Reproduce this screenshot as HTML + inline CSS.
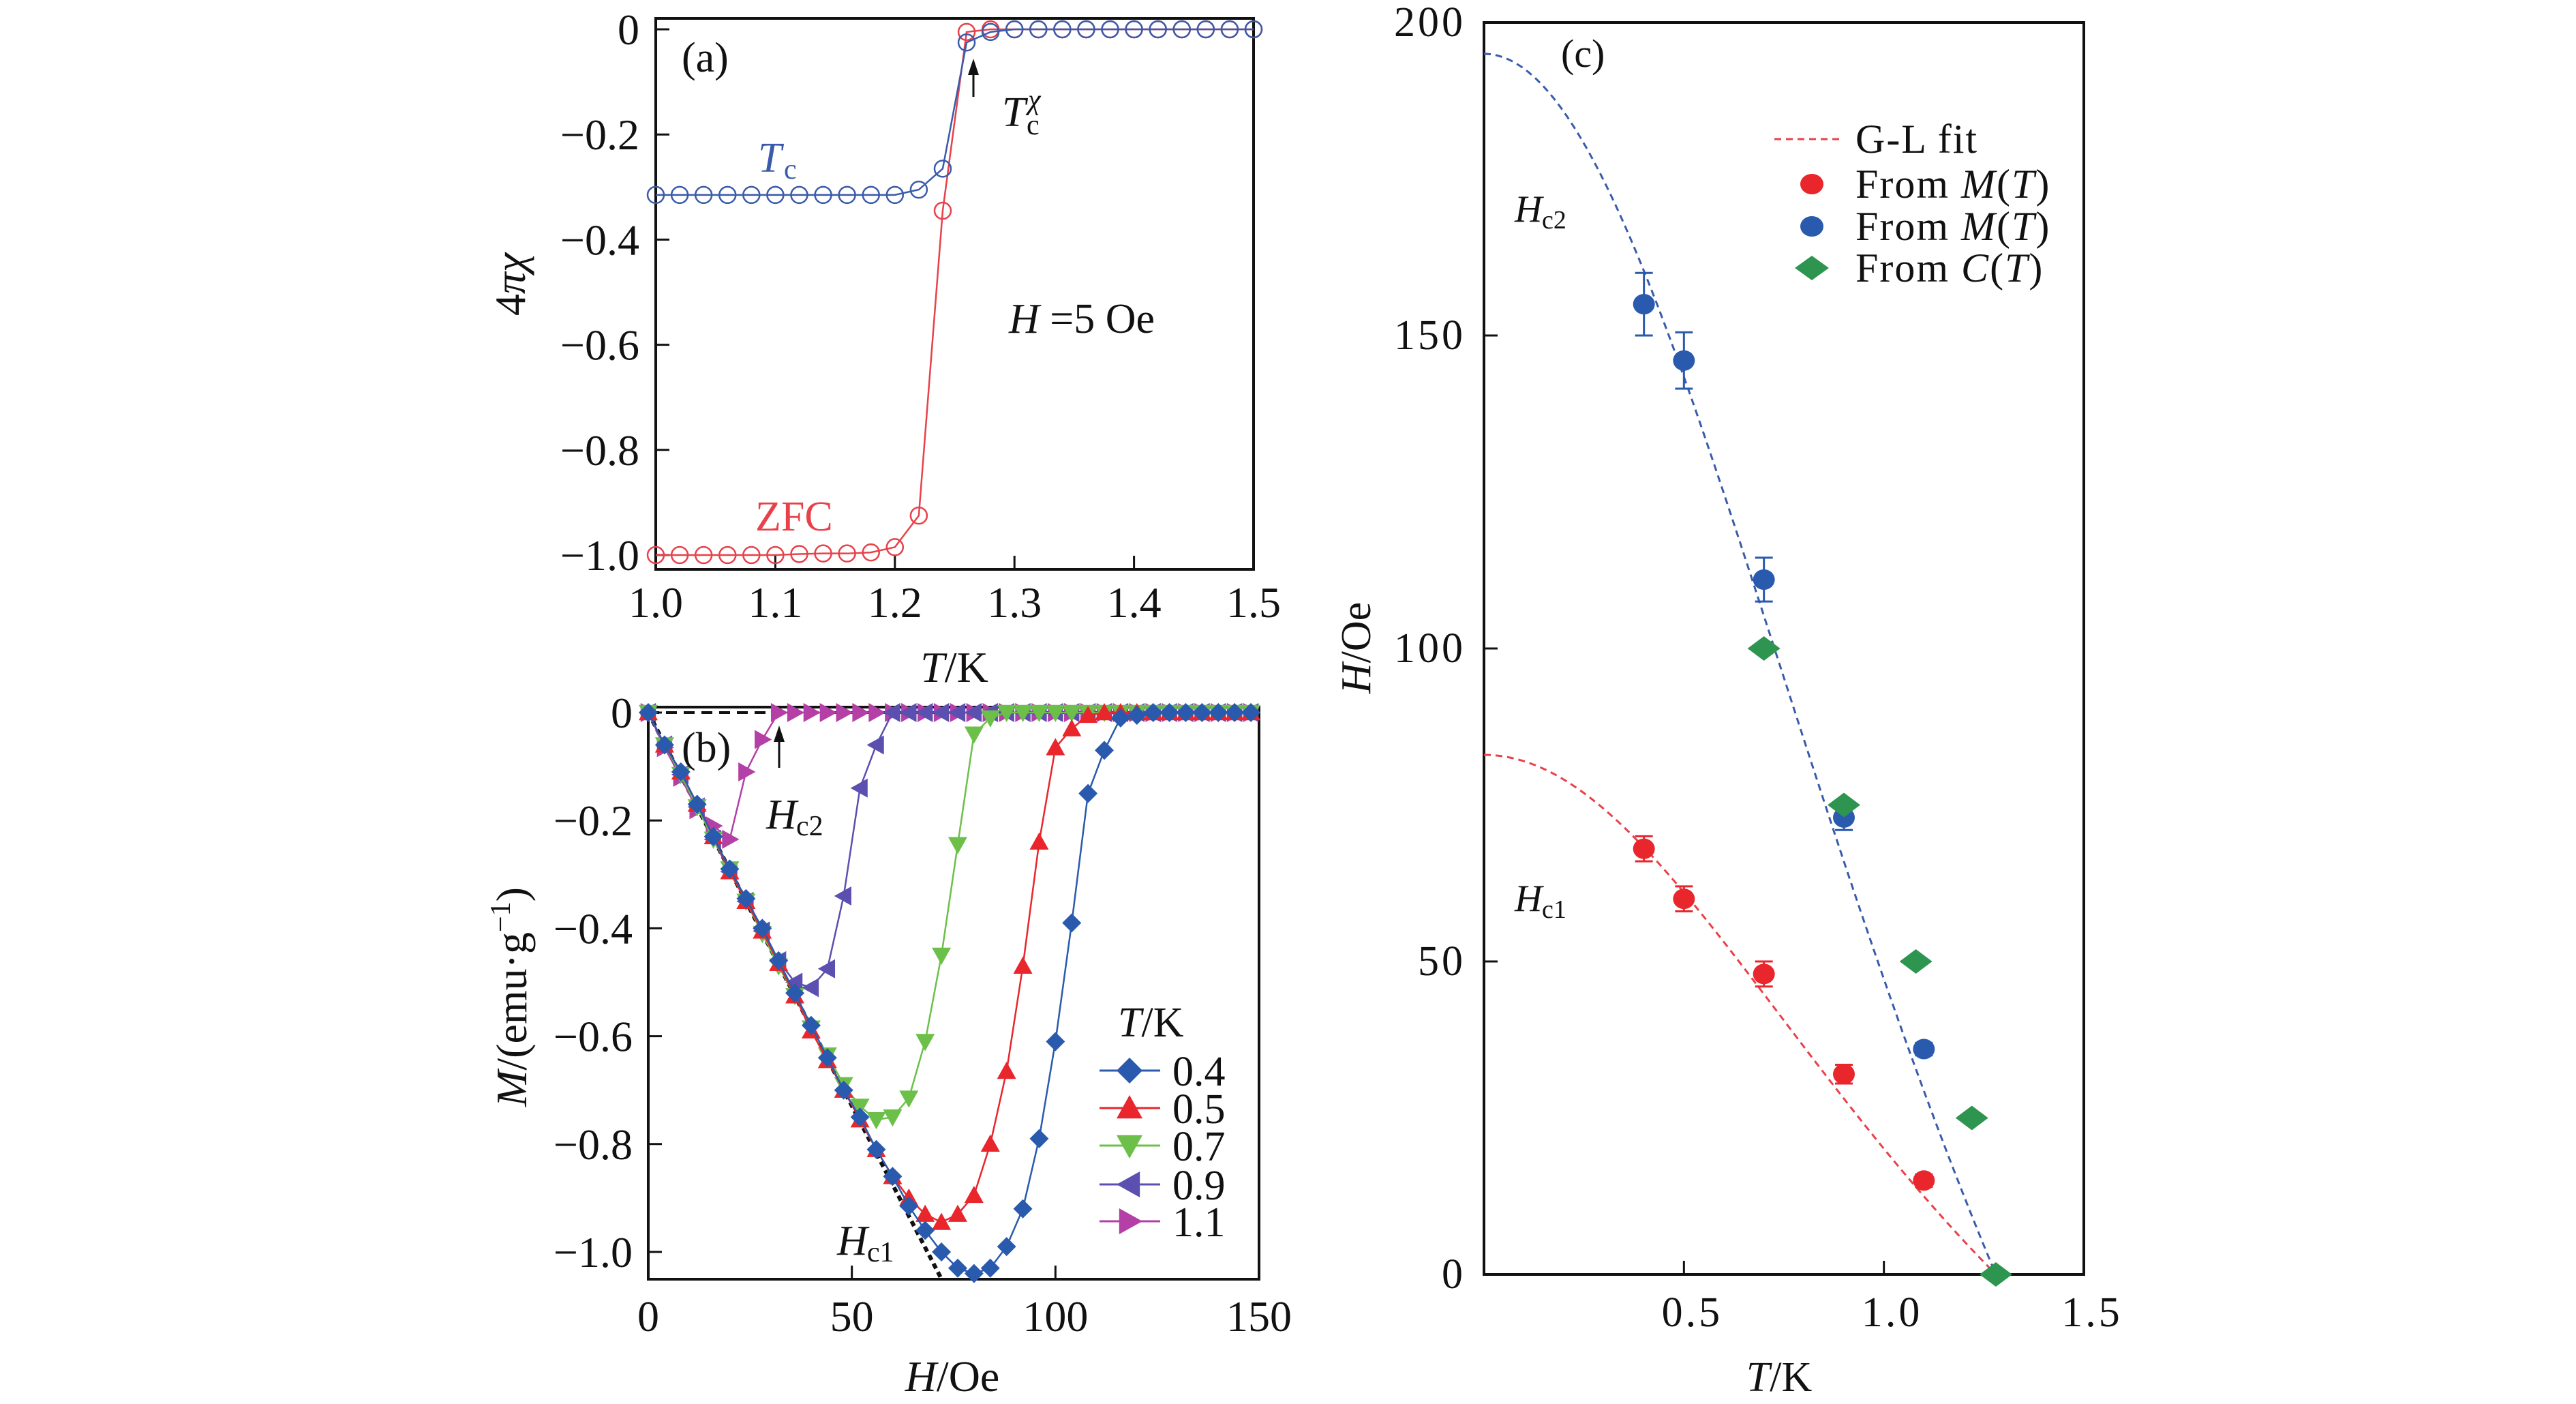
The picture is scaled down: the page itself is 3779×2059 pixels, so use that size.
<!DOCTYPE html>
<html><head><meta charset="utf-8"><style>
html,body{margin:0;padding:0;background:#fff;}
svg{display:block;font-family:"Liberation Serif",serif;}
</style></head><body>
<svg id="fig" width="3779" height="2059" viewBox="0 0 3779 2059" xmlns="http://www.w3.org/2000/svg">
<g id="pa"></g>
<g id="pb"></g>
<g id="pc"></g>
</svg>
<script>
// ---- Panel (a) data ----
const aT = [1.00,1.02,1.04,1.06,1.08,1.10,1.12,1.14,1.16,1.18,1.20,1.22,1.24,1.26,1.28,1.30,1.32,1.34,1.36,1.38,1.40,1.42,1.44,1.46,1.48,1.50];
const aFC = [-0.315,-0.315,-0.315,-0.315,-0.315,-0.315,-0.315,-0.315,-0.315,-0.315,-0.315,-0.305,-0.265,-0.025,-0.005,0,0,0,0,0,0,0,0,0,0,0];
const aZFC = [-1.0,-1.0,-1.0,-1.0,-1.0,-1.0,-0.998,-0.997,-0.997,-0.995,-0.985,-0.925,-0.345,-0.005,0,0,0,0,0,0,0,0,0,0,0,0];
const aXTicks = [1.0,1.1,1.2,1.3,1.4,1.5];
const aXTickLabels = ["1.0","1.1","1.2","1.3","1.4","1.5"];
const aYTicks = [0,-0.2,-0.4,-0.6,-0.8,-1.0];
const aYTickLabels = ["0","\u22120.2","\u22120.4","\u22120.6","\u22120.8","\u22121.0"];
// ---- Panel (b) data ----
const bH = [0,4,8,12,16,20,24,28,32,36,40,44,48,52,56,60,64,68,72,76,80,84,88,92,96,100,104,108,112,116,120,124,128,132,136,140,144,148];
const bM04 = [0,-0.06,-0.11,-0.17,-0.23,-0.29,-0.345,-0.40,-0.46,-0.52,-0.58,-0.64,-0.70,-0.75,-0.81,-0.86,-0.915,-0.96,-1.0,-1.03,-1.04,-1.03,-0.99,-0.92,-0.79,-0.61,-0.39,-0.15,-0.07,-0.01,-0.005,0,0,0,0,0,0,0];
const bM05 = [0,-0.06,-0.11,-0.17,-0.23,-0.295,-0.35,-0.405,-0.465,-0.525,-0.59,-0.645,-0.70,-0.755,-0.81,-0.86,-0.90,-0.93,-0.945,-0.93,-0.895,-0.80,-0.665,-0.47,-0.24,-0.065,-0.03,-0.005,0,0,0,0,0,0,0,0,0,0];
const bM07 = [0,-0.06,-0.115,-0.175,-0.235,-0.29,-0.35,-0.41,-0.47,-0.525,-0.585,-0.635,-0.69,-0.73,-0.755,-0.75,-0.715,-0.61,-0.45,-0.245,-0.04,-0.01,0,0,0,0,0,0,0,0,0,0,0,0,0,0,0,0];
const bM09 = [0,-0.06,-0.115,-0.175,-0.235,-0.295,-0.35,-0.405,-0.46,-0.50,-0.51,-0.475,-0.34,-0.14,-0.06,0,0,0,0,0,0,0,0,0,0,0,0,0,0,0,0,0,0,0,0,0,0,0];
const bM11 = [0,-0.065,-0.12,-0.18,-0.21,-0.235,-0.11,-0.05,0,0,0,0,0,0,0,0,0,0,0,0,0,0,0,0,0,0,0,0,0,0,0,0,0,0,0,0,0,0];
const bXTicks = [0,50,100,150];
const bXTickLabels = ["0","50","100","150"];
const bYTicks = [0,-0.2,-0.4,-0.6,-0.8,-1.0];
const bYTickLabels = ["0","\u22120.2","\u22120.4","\u22120.6","\u22120.8","\u22121.0"];
const bLegendLabels = ["0.4","0.5","0.7","0.9","1.1"];
const bHc1Line = [0,72];
const bHc1Slope = [-1.05/72];
// ---- Panel (c) data ----
const cT = [0.4,0.5,0.7,0.9,1.1];
const cHc2 = [155,146,111,73,36];
const cHc2Err = [5,4.5,3.5,2,1];
const cHc1 = [68,60,48,32,15];
const cHc1Err = [2,2,2,1.5,1];
const cCT = [0.7,0.9,1.08,1.22,1.28];
const cCH = [100,75,50,25,0];
const cFitH0 = [195,83];
const cFitTc = [1.28];
const cXTicks = [0.5,1.0,1.5];
const cXTickLabels = ["0.5","1.0","1.5"];
const cYTicks = [0,50,100,150,200];
const cYTickLabels = ["0","50","100","150","200"];

const NS="http://www.w3.org/2000/svg";
function mk(parent,tag,attrs,text){const e=document.createElementNS(NS,tag);for(const k in attrs)e.setAttribute(k,attrs[k]);if(text!==undefined)e.textContent=text;parent.appendChild(e);return e;}
function lin(d0,d1,r0,r1){return v=>r0+(v-d0)*(r1-r0)/(d1-d0);}

// ===== Panel A =====
(function(){
const g=document.getElementById('pa');
const x=lin(1.0,1.5,962,1839), y=lin(0,-1.0,43,814);
let e=mk(g,'rect',{x:962,y:27,width:877,height:808,fill:'none',stroke:'#111','stroke-width':4});

aXTicks.forEach((t,i)=>{
 let l=mk(g,'line',{x1:x(t),x2:x(t),y1:835,y2:815,stroke:'#111','stroke-width':3});
 
 let tx=mk(g,'text',{x:x(t),y:905,'font-size':64,'text-anchor':'middle',fill:'#111'},aXTickLabels[i]);
 
});
aYTicks.forEach((t,i)=>{
 let l=mk(g,'line',{x1:962,x2:982,y1:y(t),y2:y(t),stroke:'#111','stroke-width':3});
 
 let tx=mk(g,'text',{x:938,y:y(t)+22,'font-size':64,'text-anchor':'end',fill:'#111'},aYTickLabels[i]);
 
});
function series(vals,col,name){
 let p=mk(g,'polyline',{points:aT.map((t,i)=>x(t)+','+y(vals[i])).join(' '),fill:'none',stroke:col,'stroke-width':2.5});
 
 aT.forEach((t,i)=>{let c=mk(g,'circle',{cx:x(t),cy:y(vals[i]),r:12,fill:'none',stroke:col,'stroke-width':2.5});
 });
}
series(aZFC,'#e8414a','zfc');
series(aFC,'#3a5bab','fc');
let t;
t=mk(g,'text',{x:1000,y:105,'font-size':62,fill:'#111'},'(a)');
t=mk(g,'text',{x:1112,y:252,'font-size':62,fill:'#3a5bab','font-style':'italic'},'T');
mk(g,'text',{x:1150,y:262,'font-size':42,fill:'#3a5bab'},'c');
t=mk(g,'text',{x:1470,y:185,'font-size':62,fill:'#111','font-style':'italic'},'T');
mk(g,'text',{x:1506,y:197,'font-size':42,fill:'#111'},'c');
mk(g,'text',{x:1508,y:160,'font-size':42,fill:'#111','font-style':'italic'},'\u03c7');
t=mk(g,'line',{x1:1428,y1:142,x2:1428,y2:100,stroke:'#111','stroke-width':3});
mk(g,'polygon',{points:'1428,86 1420,110 1436,110',fill:'#111'});
t=mk(g,'text',{x:1480,y:488,'font-size':62,fill:'#111'},'');
mk(t,'tspan',{'font-style':'italic'},'H');mk(t,'tspan',{},' =5 Oe');
t=mk(g,'text',{x:1108,y:778,'font-size':62,fill:'#e8414a'},'ZFC');
t=mk(g,'text',{x:0,y:0,'font-size':64,fill:'#111','text-anchor':'middle',transform:'translate(770,417) rotate(-90)'},'');

mk(t,'tspan',{},'4');mk(t,'tspan',{'font-style':'italic'},'\u03c0\u03c7');
t=mk(g,'text',{x:1400,y:1000,'font-size':64,fill:'#111','text-anchor':'middle'},'');

mk(t,'tspan',{'font-style':'italic'},'T');mk(t,'tspan',{},'/K');
})();

// ===== Panel B =====
(function(){
const g=document.getElementById('pb');
const x=lin(0,150,951,1847), y=lin(0,-1.0,1045,1836);
let e=mk(g,'rect',{x:951,y:1037,width:896,height:839,fill:'none',stroke:'#111','stroke-width':4});

bXTicks.forEach((t,i)=>{
 let l=mk(g,'line',{x1:x(t),x2:x(t),y1:1876,y2:1856,stroke:'#111','stroke-width':3});
 
 let tx=mk(g,'text',{x:x(t),y:1952,'font-size':64,'text-anchor':'middle',fill:'#111'},bXTickLabels[i]);
 
});
bYTicks.forEach((t,i)=>{
 let l=mk(g,'line',{x1:951,x2:971,y1:y(t),y2:y(t),stroke:'#111','stroke-width':3});
 
 let tx=mk(g,'text',{x:928,y:y(t)+22,'font-size':64,'text-anchor':'end',fill:'#111'},bYTickLabels[i]);
 
});
let d=mk(g,'line',{x1:x(0),y1:y(0),x2:x(150),y2:y(0),stroke:'#111','stroke-width':4,'stroke-dasharray':'16,10'});

d=mk(g,'line',{x1:x(bHc1Line[0]),y1:y(bHc1Line[0]*bHc1Slope[0]),x2:x(bHc1Line[1]),y2:y(bHc1Line[1]*bHc1Slope[0]),stroke:'#111','stroke-width':6,'stroke-dasharray':'8,6'});

function marker(shape,cx,cy,s,col){
 let pts;
 if(shape==='diamond')pts=[[cx,cy-s],[cx+s,cy],[cx,cy+s],[cx-s,cy]];
 else if(shape==='up')pts=[[cx,cy-s],[cx+s,cy+s*0.8],[cx-s,cy+s*0.8]];
 else if(shape==='down')pts=[[cx,cy+s],[cx+s,cy-s*0.8],[cx-s,cy-s*0.8]];
 else if(shape==='left')pts=[[cx-s,cy],[cx+s*0.8,cy-s],[cx+s*0.8,cy+s]];
 else pts=[[cx+s,cy],[cx-s*0.8,cy-s],[cx-s*0.8,cy+s]];
 return mk(g,'polygon',{points:pts.map(p=>p.join(',')).join(' '),fill:col});
}
const sets=[[bM11,'#b43fa6','right','t11'],[bM09,'#5b4fb0','left','t09'],[bM07,'#6cc04a','down','t07'],[bM05,'#e8262c','up','t05'],[bM04,'#2a5aad','diamond','t04']];
sets.forEach(([vals,col,sh,name])=>{
 let p=mk(g,'polyline',{points:bH.map((h,i)=>x(h)+','+y(vals[i])).join(' '),fill:'none',stroke:col,'stroke-width':2.5});
 
 bH.forEach((h,i)=>{let m=marker(sh,x(h),y(vals[i]),14,col);
 });
});
let t=mk(g,'text',{x:1640,y:1520,'font-size':62,fill:'#111'},'');
mk(t,'tspan',{'font-style':'italic'},'T');mk(t,'tspan',{},'/K');
const leg=[['#2a5aad','diamond'],['#e8262c','up'],['#6cc04a','down'],['#5b4fb0','left'],['#b43fa6','right']];
const ly=[1570,1625,1680,1737,1791];
leg.forEach(([col,sh],i)=>{
 let l=mk(g,'line',{x1:1613,x2:1702,y1:ly[i],y2:ly[i],stroke:col,'stroke-width':3});
 
 let m=marker(sh,1657,ly[i],19,col);
 let tx=mk(g,'text',{x:1720,y:ly[i]+22,'font-size':62,fill:'#111'},bLegendLabels[i]);
 
});
t=mk(g,'text',{x:1000,y:1117,'font-size':62,fill:'#111'},'(b)');
t=mk(g,'line',{x1:1143,y1:1126,x2:1143,y2:1080,stroke:'#111','stroke-width':3});
mk(g,'polygon',{points:'1143,1064 1135,1088 1151,1088',fill:'#111'});
t=mk(g,'text',{x:1124,y:1215,'font-size':62,fill:'#111','font-style':'italic'},'H');
mk(g,'text',{x:1168,y:1225,'font-size':42,fill:'#111'},'c2');
t=mk(g,'text',{x:1228,y:1840,'font-size':62,fill:'#111','font-style':'italic'},'H');
mk(g,'text',{x:1272,y:1850,'font-size':42,fill:'#111'},'c1');
t=mk(g,'text',{x:0,y:0,'font-size':64,fill:'#111','text-anchor':'middle',transform:'translate(772,1462) rotate(-90)'},'');

mk(t,'tspan',{'font-style':'italic'},'M');mk(t,'tspan',{},'/(emu\u00b7g');mk(t,'tspan',{'font-size':42,dy:-24},'\u22121');mk(t,'tspan',{dy:24},')');
t=mk(g,'text',{x:1397,y:2040,'font-size':64,fill:'#111','text-anchor':'middle'},'');

mk(t,'tspan',{'font-style':'italic'},'H');mk(t,'tspan',{},'/Oe');
})();

// ===== Panel C =====
(function(){
const g=document.getElementById('pc');
const x=lin(0,1.5,2177,3057), y=lin(0,200,1869,33);
let e=mk(g,'rect',{x:2177,y:33,width:880,height:1836,fill:'none',stroke:'#111','stroke-width':4});

cXTicks.forEach((t,i)=>{
 let l=mk(g,'line',{x1:x(t),x2:x(t),y1:1869,y2:1849,stroke:'#111','stroke-width':3});
 
 let tx=mk(g,'text',{x:x(t)+12,y:1945,'font-size':62,'text-anchor':'middle',fill:'#111','letter-spacing':4},cXTickLabels[i]);
 
});
cYTicks.forEach((t,i)=>{
 let l=mk(g,'line',{x1:2177,x2:2197,y1:y(t),y2:y(t),stroke:'#111','stroke-width':3});
 
 let tx=mk(g,'text',{x:2150,y:y(t)+20,'font-size':62,'text-anchor':'end',fill:'#111','letter-spacing':4},cYTickLabels[i]);
 
});
const fitCols=['#3a5bab','#e8414a'];
cFitH0.forEach((h0,k)=>{
 const pts=[];
 for(let i=0;i<=80;i++){const T=cFitTc[0]*i/80;const tt=(T/cFitTc[0])**2;pts.push(x(T)+','+y(h0*(1-tt)/(1+tt)));}
 let p=mk(g,'polyline',{points:pts.join(' '),fill:'none',stroke:fitCols[k],'stroke-width':3,'stroke-dasharray':'10,7'});
 
});
function errpts(H,E,col,name){
 cT.forEach((T,i)=>{
  const cx=x(T);
  let l=mk(g,'path',{d:`M${cx},${y(H[i]-E[i])}V${y(H[i]+E[i])}M${cx-13},${y(H[i]-E[i])}h26M${cx-13},${y(H[i]+E[i])}h26`,stroke:col,'stroke-width':3,fill:'none'});
  
  let c=mk(g,'ellipse',{cx:cx,cy:y(H[i]),rx:16,ry:15,fill:col});
  
 });
}
errpts(cHc2,cHc2Err,'#2a5aad','hc2-mt');
errpts(cHc1,cHc1Err,'#e8262c','hc1-mt');
cCT.forEach((T,i)=>{
 const cx=x(T),cy=y(cCH[i]);
 let m=mk(g,'polygon',{points:`${cx},${cy-18} ${cx+24},${cy} ${cx},${cy+18} ${cx-24},${cy}`,fill:'#2e9550'});
 
});
let t=mk(g,'line',{x1:2603,x2:2703,y1:204,y2:204,stroke:'#e8414a','stroke-width':3,'stroke-dasharray':'10,7'});

const lys=[204,270,332,393];
const labs=[['G-L fit'],['From ','M','(','T',')'],['From ','M','(','T',')'],['From ','C','(','T',')']];
labs.forEach((parts,i)=>{
 let tx=mk(g,'text',{x:2722,y:lys[i]+20,'font-size':60,fill:'#111','letter-spacing':2},'');
 
 parts.forEach((p,j)=>mk(tx,'tspan',(j===1||j===3)?{'font-style':'italic'}:{},p));
});
t=mk(g,'ellipse',{cx:2658,cy:270,rx:17,ry:15,fill:'#e8262c'});
t=mk(g,'ellipse',{cx:2658,cy:332,rx:17,ry:15,fill:'#2a5aad'});
t=mk(g,'polygon',{points:'2658,375 2683,393 2658,411 2633,393',fill:'#2e9550'});
t=mk(g,'text',{x:2290,y:98,'font-size':58,fill:'#111'},'(c)');
t=mk(g,'text',{x:2222,y:325,'font-size':56,fill:'#111','font-style':'italic'},'H');
mk(g,'text',{x:2262,y:335,'font-size':38,fill:'#111'},'c2');
t=mk(g,'text',{x:2222,y:1336,'font-size':56,fill:'#111','font-style':'italic'},'H');
mk(g,'text',{x:2262,y:1346,'font-size':38,fill:'#111'},'c1');
t=mk(g,'text',{x:0,y:0,'font-size':62,fill:'#111','text-anchor':'middle',transform:'translate(2010,950) rotate(-90)'},'');

mk(t,'tspan',{'font-style':'italic'},'H');mk(t,'tspan',{},'/Oe');
t=mk(g,'text',{x:2610,y:2040,'font-size':62,fill:'#111','text-anchor':'middle'},'');

mk(t,'tspan',{'font-style':'italic'},'T');mk(t,'tspan',{},'/K');
})();
</script>
</body></html>
